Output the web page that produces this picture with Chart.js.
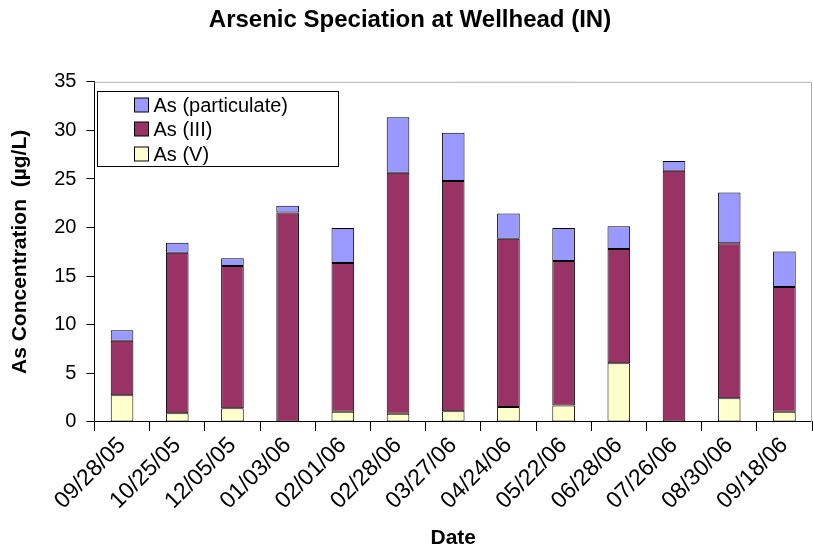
<!DOCTYPE html>
<html>
<head>
<meta charset="utf-8">
<script src="https://cdn.jsdelivr.net/npm/chart.js@4"></script>
<style>
  html, body { margin: 0; padding: 0; background: #fff; }
  #wrap { width: 813px; height: 553px; }
</style>
</head>
<body>
<div id="wrap"><canvas id="chart" width="813" height="553"></canvas></div>
<script>
// Dates sampled
const dates = ["09/28/05", "10/25/05", "12/05/05", "01/03/06", "02/01/06", "02/28/06", "03/27/06",
  "04/24/06", "05/22/06", "06/28/06", "07/26/06", "08/30/06", "09/18/06"]

// Stacked values (µg/L), bottom to top
const asV = [2.75, 0.9, 1.4, 0, 1.05, 0.85, 1.1, 1.55, 1.7, 6.05, 0, 2.45, 1.05]
const asIII = [5.6, 16.5, 14.65, 21.55, 15.3, 24.8, 23.7, 17.3, 14.85, 11.75, 25.85, 15.95, 12.85]
const asPart = [1.1, 1.05, 0.8, 0.7, 3.6, 5.7, 4.95, 2.6, 3.4, 2.35, 1.0, 5.2, 3.65]

const yTicks = [0, 5, 10, 15, 20, 25, 30, 35]

const FONT = "'Liberation Sans', Arial, sans-serif"

// Legend box drawn inside the plot area, plus grey frame on top/right
const boxLegend = {
  id: "boxLegend",
  afterDraw(chart) {
    const ctx = chart.ctx
    const area = chart.chartArea
    ctx.save()
    // frame
    ctx.strokeStyle = "#b0b0b0"
    ctx.lineWidth = 1
    ctx.beginPath()
    ctx.moveTo(area.left, area.top + 0.5)
    ctx.lineTo(area.right - 0.5, area.top + 0.5)
    ctx.lineTo(area.right - 0.5, area.bottom)
    ctx.stroke()

    // legend
    const x = Math.round(area.left) + 3.5, y = Math.round(area.top) + 9.5, w = 241, h = 75
    ctx.fillStyle = "#fff"
    ctx.fillRect(x, y, w, h)
    ctx.strokeStyle = "#000"
    ctx.strokeRect(x, y, w, h)
    const items = chart.data.datasets.slice().reverse()
    ctx.font = "20px " + FONT
    ctx.textBaseline = "middle"
    items.forEach((ds, i) => {
      const cy = Math.round(y + 13 + i * 24.5)
      ctx.fillStyle = ds.backgroundColor
      ctx.fillRect(x + 37, cy - 7, 14, 14)
      ctx.strokeStyle = "#000"
      ctx.strokeRect(x + 37, cy - 7, 14, 14)
      ctx.fillStyle = "#000"
      ctx.fillText(ds.label, x + 56, cy + 1)
    })
    ctx.restore()
  }
}

const barOpts = { borderColor: "#000", borderWidth: 1, borderSkipped: false, barPercentage: 0.41, categoryPercentage: 1 }

new Chart(document.getElementById("chart"), {
  type: "bar",
  data: {
    labels: dates,
    datasets: [
      Object.assign({ label: "As (V)", data: asV, backgroundColor: "#FFFFCC" }, barOpts),
      Object.assign({ label: "As (III)", data: asIII, backgroundColor: "#993366" }, barOpts),
      Object.assign({ label: "As (particulate)", data: asPart, backgroundColor: "#9999FF" }, barOpts),
    ],
  },
  options: {
    responsive: false,
    animation: false,
    layout: { padding: { left: 8, right: 1, top: 0, bottom: 2 } },
    plugins: {
      legend: { display: false },
      tooltip: { enabled: false },
      title: {
        display: true,
        text: "Arsenic Speciation at Wellhead (IN)",
        color: "#000",
        font: { family: FONT, size: 24, weight: "bold" },
        padding: { top: 6, bottom: 47 },
      },
    },
    scales: {
      x: {
        stacked: true,
        grid: { display: true, drawOnChartArea: false, drawTicks: true, tickLength: 9, color: "#000", offset: true },
        border: { color: "#000", width: 1 },
        ticks: {
          color: "#000",
          font: { family: FONT, size: 23 },
          maxRotation: 45,
          minRotation: 45,
          autoSkip: false,
          padding: 1,
        },
        title: {
          display: true,
          text: "Date",
          color: "#000",
          font: { family: FONT, size: 21, weight: "bold" },
          padding: { top: 10, bottom: 0 },
        },
      },
      y: {
        stacked: true,
        min: 0,
        max: 35,
        afterBuildTicks: (axis) => { axis.ticks = yTicks.map((v) => ({ value: v })) },
        grid: { display: true, drawOnChartArea: false, drawTicks: true, tickLength: 8, color: "#000" },
        border: { color: "#000", width: 1 },
        ticks: {
          color: "#000",
          font: { family: FONT, size: 20 },
          padding: 10,
        },
        title: {
          display: true,
          text: "As Concentration  (µg/L)",
          color: "#000",
          font: { family: FONT, size: 21, weight: "bold" },
          padding: { top: 0, bottom: 11 },
        },
      },
    },
  },
  plugins: [boxLegend],
})
</script>
</body>
</html>
